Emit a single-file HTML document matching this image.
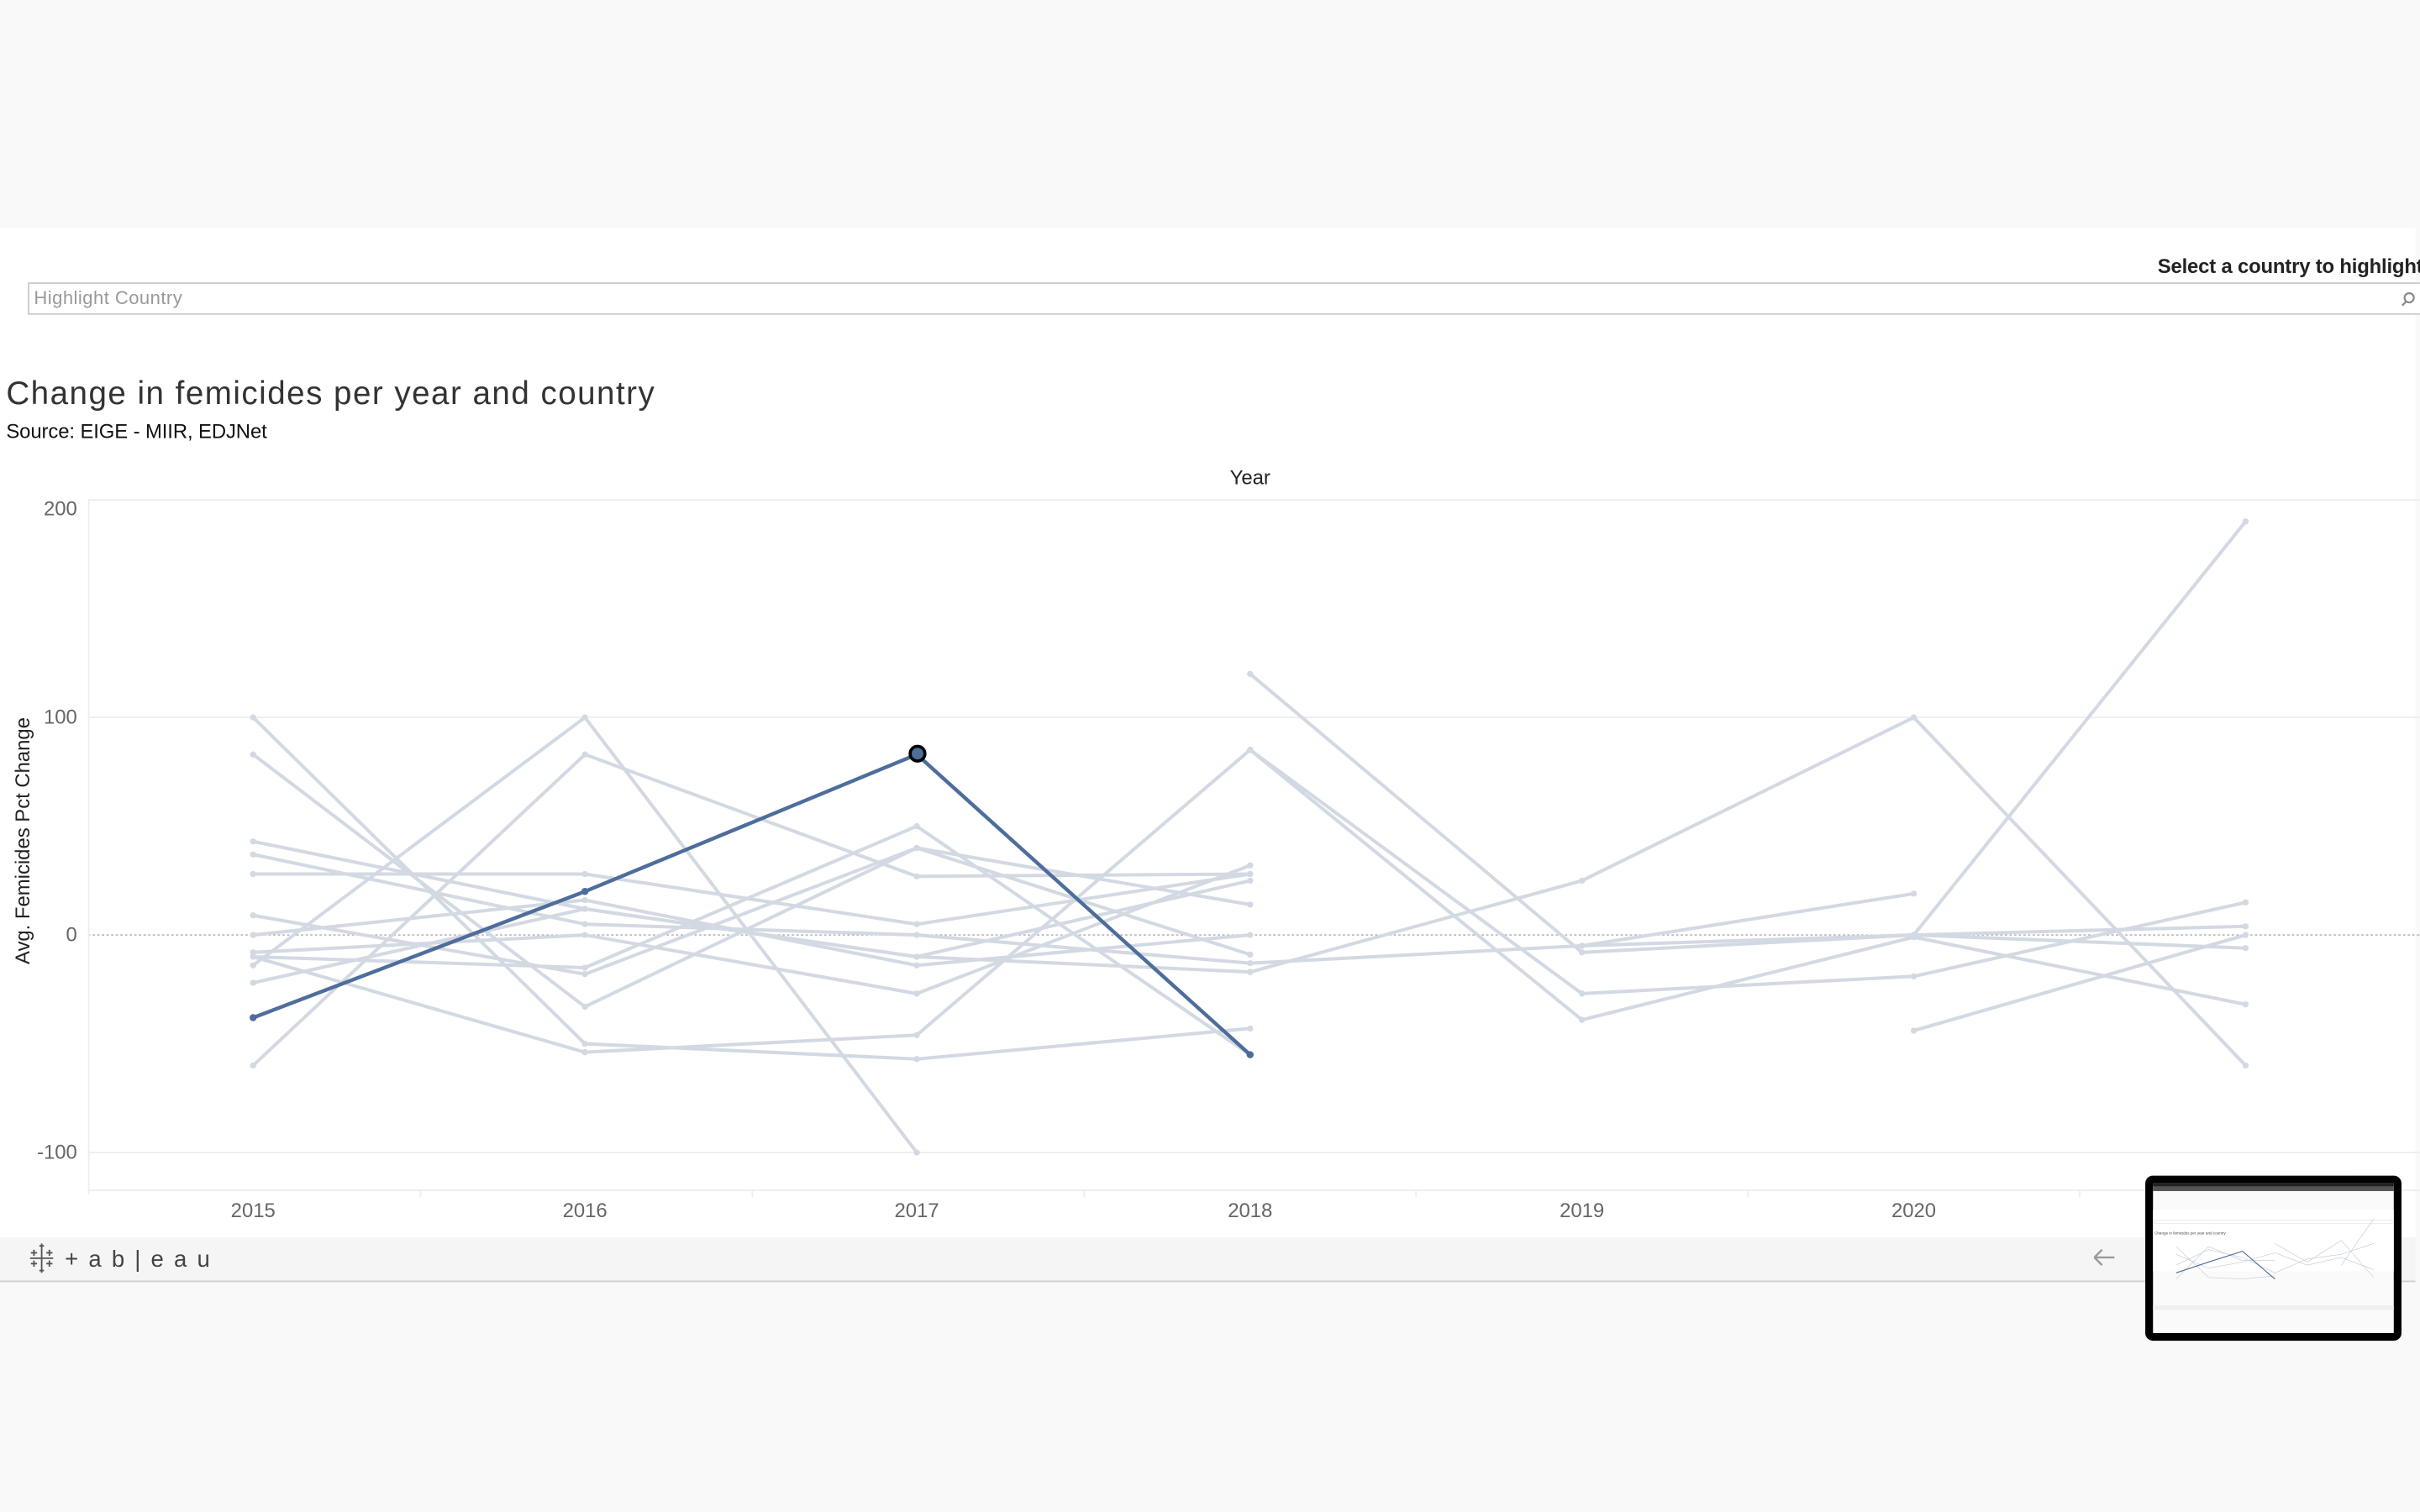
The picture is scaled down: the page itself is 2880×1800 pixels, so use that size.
<!DOCTYPE html>
<html><head><meta charset="utf-8"><style>
html,body{margin:0;padding:0;width:2880px;height:1800px;overflow:hidden;background:#f9f9f9}
svg{display:block}
</style></head><body>
<svg width="2880" height="1800" viewBox="0 0 1568 980" preserveAspectRatio="none" xmlns="http://www.w3.org/2000/svg" font-family="'Liberation Sans', sans-serif">
<defs>
<marker id="g" markerWidth="4" markerHeight="4" refX="2" refY="2" markerUnits="userSpaceOnUse" viewBox="0 0 4 4"><circle cx="2" cy="2" r="2" fill="#d3d9e2"/></marker>
<marker id="b" markerWidth="5" markerHeight="5" refX="2.5" refY="2.5" markerUnits="userSpaceOnUse" viewBox="0 0 5 5"><circle cx="2.5" cy="2.5" r="2.3" fill="#4e6d9b"/></marker>
</defs>
<rect x="0" y="0" width="1568" height="980" fill="#f9f9f9"/>
<rect x="0" y="148" width="1565" height="654" fill="#ffffff"/>
<rect x="0" y="802" width="1565" height="28" fill="#f5f5f5"/>
<line x1="0" y1="830.5" x2="1565" y2="830.5" stroke="#d0d0d0" stroke-width="1"/>

<text x="1398" y="177" font-size="13" font-weight="bold" fill="#222" textLength="172">Select a country to highlight</text>
<rect x="18.5" y="183.5" width="1560" height="20" fill="#fff" stroke="#ccc" stroke-width="1"/>
<text x="22" y="197" font-size="12" fill="#999" textLength="96">Highlight Country</text>
<circle cx="1561" cy="193" r="3" fill="none" stroke="#888" stroke-width="1.2"/>
<line x1="1559" y1="195.5" x2="1556.5" y2="198" stroke="#888" stroke-width="1.2"/>

<text x="4" y="262" font-size="21" fill="#333" textLength="420">Change in femicides per year and country</text>
<text x="4" y="284" font-size="13" fill="#111" textLength="169">Source: EIGE - MIIR, EDJNet</text>
<text x="810" y="314" font-size="13" fill="#222" text-anchor="middle">Year</text>

<line x1="57" y1="324" x2="1568" y2="324" stroke="#eeeeee" stroke-width="1"/>
<line x1="57" y1="465" x2="1568" y2="465" stroke="#eeeeee" stroke-width="1"/>
<line x1="57" y1="747" x2="1568" y2="747" stroke="#eeeeee" stroke-width="1"/>
<line x1="57" y1="606" x2="1568" y2="606" stroke="#aaaaaa" stroke-width="0.8" stroke-dasharray="1.5,1.5"/>
<line x1="57.5" y1="324" x2="57.5" y2="774" stroke="#eeeeee" stroke-width="1"/>
<line x1="57" y1="771.5" x2="1568" y2="771.5" stroke="#eeeeee" stroke-width="1"/>
<g stroke="#eeeeee" stroke-width="1">
<line x1="272.5" y1="771" x2="272.5" y2="776"/><line x1="487.5" y1="771" x2="487.5" y2="776"/><line x1="702.5" y1="771" x2="702.5" y2="776"/><line x1="917.5" y1="771" x2="917.5" y2="776"/><line x1="1132.5" y1="771" x2="1132.5" y2="776"/><line x1="1347.5" y1="771" x2="1347.5" y2="776"/>
</g>
<g font-size="13" fill="#666" text-anchor="end">
<text x="50" y="334">200</text><text x="50" y="469">100</text><text x="50" y="610">0</text><text x="50" y="751">-100</text>
</g>
<text transform="translate(19,545) rotate(-90)" font-size="13" fill="#222" text-anchor="middle">Avg. Femicides Pct Change</text>
<g font-size="13" fill="#666" text-anchor="middle">
<text x="164" y="789">2015</text><text x="379" y="789">2016</text><text x="594" y="789">2017</text><text x="810" y="789">2018</text><text x="1025" y="789">2019</text><text x="1240" y="789">2020</text><text x="1455" y="789">2021</text>
</g>

<g fill="none" stroke="#d3d9e2" stroke-width="2.2" stroke-linejoin="round" marker-start="url(#g)" marker-mid="url(#g)" marker-end="url(#g)">
<polyline points="164,465 379,676.5 594,686.4 810,666.6"/>
<polyline points="164,489 379,652.5 594,549.6 810,618.7"/>
<polyline points="164,690.6 379,489 594,568 810,566.5"/>
<polyline points="164,625.7 379,465 594,747"/>
<polyline points="164,545.4 379,589.1 594,620.1 810,570.8"/>
<polyline points="164,553.8 379,599 594,606 810,624.3 1025,613 1240,606 1455,600.4"/>
<polyline points="164,566.5 379,566.5 594,599 810,566.5"/>
<polyline points="164,593.3 379,631.4 594,549.6 810,586.3"/>
<polyline points="164,606 379,583.4 594,625.7 810,606"/>
<polyline points="164,617.3 379,606 594,644 810,560.9"/>
<polyline points="164,637 379,589.1 594,620.1 810,630"/>
<polyline points="164,620.1 379,627.2 594,535.5 810,683.6"/>
<polyline points="164,620.1 379,682 594,670.9 810,486 1025,644 1240,632.8 1455,584.9"/>
<polyline points="810,436.8 1025,617.3 1240,606 1455,614.5"/>
<polyline points="810,630 1025,570.8 1240,465 1455,690.6"/>
<polyline points="810,486 1025,661 1240,607.4 1455,651"/>
<polyline points="1240,668 1455,606"/>
<polyline points="1240,606 1455,338"/>
<polyline points="1025,613 1240,579.2"/>
</g>
<polyline points="164,659.6 379,577.8 594,489 810,683.6" fill="none" stroke="#4e6d9b" stroke-width="2.4" stroke-linejoin="round" marker-start="url(#b)" marker-mid="url(#b)" marker-end="url(#b)"/>
<circle cx="594.5" cy="488.5" r="4.8" fill="#4e6d9b" stroke="#000" stroke-width="2"/>

<g stroke="#555" stroke-width="1">
<path d="M27 808v15M19.5 815.5h15M22 810v4M20 812h4M32 810v4M30 812h4M22 817v4M20 819h4M32 817v4M30 819h4M27 806v3M25.5 807.5h3M27 822v3M25.5 823.5h3"/>
</g>
<text x="42" y="821" font-size="15" fill="#444" textLength="94">+ab|eau</text>
<path d="M1357 815h13M1357 815l5-5M1357 815l5 5" stroke="#999" stroke-width="1.3" fill="none"/>

<rect x="1390" y="762" width="166" height="107" rx="5" fill="#000"/>
<rect x="1395" y="767" width="156" height="97" fill="#fafafa"/>
<rect x="1395" y="767" width="156" height="2" fill="#222"/>
<rect x="1395" y="769" width="156" height="3" fill="#555"/>
<rect x="1395" y="784" width="156" height="40" fill="#fff"/>
<rect x="1396" y="791" width="154" height="2" fill="none" stroke="#ddd" stroke-width="0.3"/>
<text x="1396" y="800" font-size="2.5" fill="#444">Change in femicides per year and country</text>
<g fill="none" stroke="#c9d1dc" stroke-width="0.4">
<polyline points="1410,808 1431,828 1453,829 1474,827"/>
<polyline points="1410,829 1431,808 1453,817 1474,817"/>
<polyline points="1410,820 1431,810 1453,815 1474,825 1495,816 1517,813 1538,806"/>
<polyline points="1410,813 1431,822 1453,818 1474,812 1495,820 1517,815 1538,823"/>
<polyline points="1474,806 1495,818 1517,804 1538,828"/>
<polyline points="1517,820 1538,790"/>
</g>
<polyline points="1410,825 1431,818 1453,811 1474,829" fill="none" stroke="#4e6d9b" stroke-width="0.6"/>
<rect x="1395" y="846" width="156" height="3" fill="#f0f0f0"/>
</svg>
</body></html>
